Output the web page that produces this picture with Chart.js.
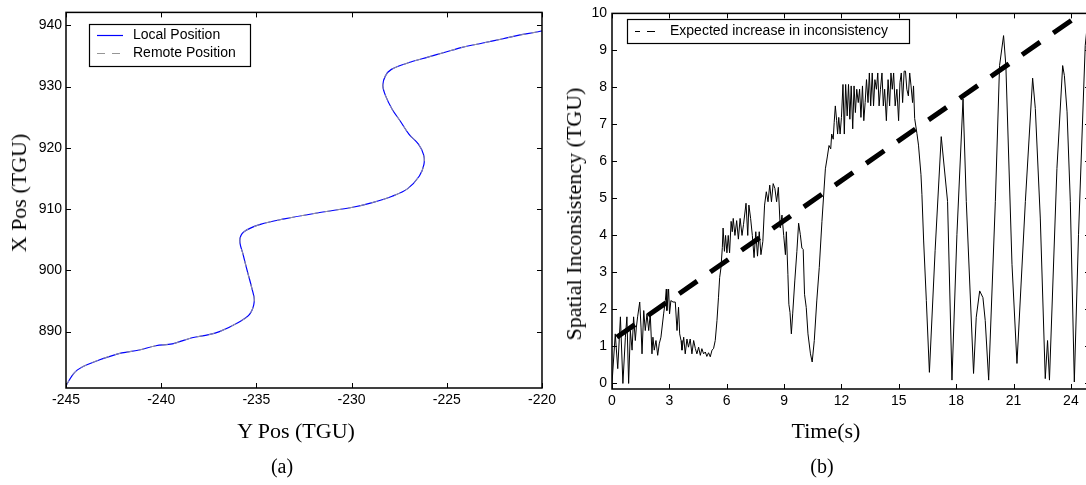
<!DOCTYPE html>
<html>
<head>
<meta charset="utf-8">
<script src="https://cdn.jsdelivr.net/npm/chart.js@4.4.1/dist/chart.umd.min.js"></script>
<style>
    body { margin: 0; width: 1086px; height: 485px; overflow: hidden; background: #fff; position: relative; }
    .box { position: absolute; top: 0; width: 560px; height: 420px; }
    .lbl { position: absolute; font: 22px "Liberation Serif", "Times New Roman", serif; color: #000; white-space: nowrap; transform: translate(-50%, -50%); }
    .vert { transform: translate(-50%, -50%) rotate(-90deg); }
    .cap { font-size: 20px; }
</style>
</head>
<body>
<div class="box" style="left:0px"><canvas id="chartPosition" width="560" height="420"></canvas></div>
<div class="box" style="left:540px"><canvas id="chartInconsistency" width="560" height="420"></canvas></div>

<div class="lbl vert" style="left:19px;top:193px">X Pos (TGU)</div>
<div class="lbl" style="left:296px;top:431px">Y Pos (TGU)</div>
<div class="lbl cap" style="left:282px;top:466px">(a)</div>

<div class="lbl vert" style="left:574px;top:214px">Spatial Inconsistency (TGU)</div>
<div class="lbl" style="left:826px;top:431px">Time(s)</div>
<div class="lbl cap" style="left:822px;top:466px">(b)</div>

<script>
'use strict';

//colors

var color0 = "rgb(000,000,000)";
var colorLocal = "rgb(000,000,255)";
var colorRemote = "rgb(150,150,150)";

var tickFont = { family: '"Liberation Sans", Arial, sans-serif', size: 14 };

//chart (a) data: position track

var yPosTicks = [-245, -240, -235, -230, -225, -220];
var xPosTicks = [890, 900, 910, 920, 930, 940];

var localYPos = [-245, -244.53, -243.9, -242.36, -241.15, -240.28, -239.42, -238.38, -237.5, -236.94, -235.95, -235.36, -235.11, -235.24, -235.47, -235.69, -235.87, -235.65, -234.79, -233.53, -231.74, -229.94, -228.86, -227.87, -227.07, -226.44, -226.2, -226.22, -226.49, -226.98, -227.43, -227.87, -228.23, -228.36, -228.23, -227.91, -226.89, -225.99, -225.09, -224.19, -223.11, -222.04, -221.32, -220.28, -220];
var localXPos = [881.2, 883.4, 884.6, 886.3, 887.0, 887.7, 888.0, 889.0, 889.5, 890.0, 891.5, 892.8, 895.0, 897.1, 899.8, 902.5, 904.9, 906.3, 907.5, 908.4, 909.4, 910.3, 911.1, 912.1, 913.3, 915.4, 917.3, 918.9, 920.6, 922.2, 924.3, 926.3, 928.6, 930.2, 931.7, 932.8, 934.0, 934.8, 935.6, 936.4, 937.1, 937.8, 938.3, 938.9, 939.1];

var remoteYPos = [-245, -244.53, -243.9, -242.36, -241.15, -240.28, -239.42, -238.38, -237.5, -236.94, -235.95, -235.36, -235.11, -235.24, -235.47, -235.69, -235.87, -235.65, -234.79, -233.53, -231.74, -229.94, -228.86, -227.87, -227.07, -226.44, -226.2, -226.22, -226.49, -226.98, -227.43, -227.87, -228.23, -228.36, -228.23, -227.91, -226.89, -225.99, -225.09, -224.19, -223.11, -222.04, -221.32, -220.28, -220];
var remoteXPos = [881.2, 883.4, 884.6, 886.3, 887.0, 887.7, 888.0, 889.0, 889.5, 890.0, 891.5, 892.8, 895.0, 897.1, 899.8, 902.5, 904.9, 906.3, 907.5, 908.4, 909.4, 910.3, 911.1, 912.1, 913.3, 915.4, 917.3, 918.9, 920.6, 922.2, 924.3, 926.3, 928.6, 930.2, 931.7, 932.8, 934.0, 934.8, 935.6, 936.4, 937.1, 937.8, 938.3, 938.9, 939.1];

//chart (b) data: spatial inconsistency over time

var timeTicks = [0, 3, 6, 9, 12, 15, 18, 21, 24];
var inconsistencyTicks = [0, 1, 2, 3, 4, 5, 6, 7, 8, 9, 10];

var timeS = [0, 0.17, 0.3, 0.44, 0.57, 0.7, 0.78, 0.87, 0.96, 1.05, 1.13, 1.22, 1.27, 1.34, 1.45, 1.52, 1.57, 1.66, 1.74, 1.83, 1.92, 2.0, 2.09, 2.14, 2.21, 2.3, 2.39, 2.47, 2.56, 2.7, 2.79, 2.84, 2.87, 2.96, 3.01, 3.08, 3.19, 3.31, 3.4, 3.48, 3.54, 3.61, 3.66, 3.75, 3.83, 3.92, 4.0, 4.09, 4.18, 4.27, 4.36, 4.44, 4.53, 4.62, 4.7, 4.79, 4.88, 4.96, 5.05, 5.14, 5.23, 5.31, 5.4, 5.49, 5.57, 5.63, 5.7, 5.77, 5.81, 5.88, 5.94, 6.01, 6.08, 6.15, 6.23, 6.29, 6.34, 6.43, 6.52, 6.61, 6.7, 6.8, 6.88, 7.01, 7.1, 7.16, 7.25, 7.34, 7.43, 7.52, 7.61, 7.7, 7.79, 7.89, 7.98, 8.07, 8.16, 8.25, 8.34, 8.43, 8.52, 8.61, 8.7, 8.8, 8.89, 8.98, 9.07, 9.12, 9.2, 9.25, 9.31, 9.38, 9.45, 9.56, 9.67, 9.76, 9.85, 9.93, 10.0, 10.07, 10.16, 10.25, 10.38, 10.47, 10.58, 10.71, 10.84, 10.98, 11.07, 11.16, 11.26, 11.35, 11.44, 11.49, 11.57, 11.62, 11.68, 11.75, 11.8, 11.86, 11.93, 12.0, 12.08, 12.15, 12.22, 12.3, 12.37, 12.44, 12.51, 12.59, 12.66, 12.73, 12.8, 12.88, 12.95, 13.02, 13.1, 13.17, 13.24, 13.31, 13.39, 13.46, 13.53, 13.61, 13.68, 13.75, 13.83, 13.9, 13.97, 14.04, 14.12, 14.19, 14.26, 14.35, 14.44, 14.52, 14.59, 14.66, 14.73, 14.81, 14.9, 14.99, 15.06, 15.13, 15.2, 15.28, 15.35, 15.42, 15.5, 15.57, 15.64, 15.72, 15.77, 15.83, 15.95, 16.03, 16.16, 16.21, 16.3, 16.44, 16.6, 16.9, 17.22, 17.55, 17.78, 18.04, 18.36, 18.53, 18.91, 19.05, 19.23, 19.4, 19.52, 19.7, 20.05, 20.27, 20.48, 20.6, 20.92, 21.18, 21.62, 22.0, 22.14, 22.4, 22.66, 22.78, 22.88, 23.27, 23.57, 23.66, 23.8, 23.97, 24.18, 24.4, 24.75, 24.9];
var inconsistency = [0, 1.34, 0.4, 1.8, 0, 1.25, 1.8, 0, 1.43, 0.9, 1.8, 1.16, 1.5, 1.8, 2.2, 1.5, 0.8, 1.97, 1.43, 1.88, 1.43, 1.88, 0.8, 1.25, 0.9, 1.16, 0.76, 1.07, 1.25, 1.88, 2.24, 2.55, 1.97, 2.55, 1.88, 2.24, 2.2, 2.2, 1.43, 2.06, 1.34, 1.16, 0.9, 1.25, 0.8, 1.2, 0.98, 1.2, 0.8, 1.16, 0.94, 0.8, 0.98, 0.76, 0.94, 0.8, 0.85, 0.73, 0.83, 0.72, 0.9, 0.94, 1.16, 1.7, 2.33, 2.86, 3.13, 3.67, 4.2, 3.57, 4.0, 3.53, 4.0, 3.53, 4.38, 4.1, 4.46, 4.0, 4.4, 3.9, 4.46, 4.0, 4.3, 4.87, 4.0, 4.82, 4.46, 4.0, 3.4, 4.1, 3.44, 4.1, 3.48, 3.84, 4.82, 5.18, 4.91, 5.36, 4.91, 5.4, 5.27, 4.91, 5.3, 4.2, 4.55, 4.0, 3.48, 4.1, 2.95, 2.14, 1.92, 1.34, 1.88, 2.77, 3.57, 4.33, 4.02, 3.66, 3.62, 2.41, 2.05, 1.34, 0.8, 0.58, 1.16, 2.23, 3.13, 4.38, 5.09, 5.8, 6.12, 6.43, 6.34, 6.74, 6.6, 7.05, 7.5, 7.1, 6.74, 7.19, 6.74, 7.19, 8.08, 6.74, 8.08, 7.23, 8.08, 7.14, 8.04, 6.88, 8.04, 7.32, 7.95, 7.59, 7.95, 7.19, 8.04, 7.1, 7.59, 8.21, 7.59, 8.39, 7.5, 8.39, 7.5, 8.21, 7.95, 8.39, 7.5, 7.95, 8.39, 7.5, 7.95, 7.1, 8.21, 7.5, 8.39, 7.95, 8.39, 7.5, 7.95, 7.1, 8.13, 8.39, 7.59, 8.44, 8.44, 7.95, 7.77, 8.39, 8.04, 7.59, 8.04, 7.16, 6.75, 6.44, 5.64, 5.1, 3.85, 2.24, 0.3, 3.6, 6.67, 4.92, 0.09, 4.03, 7.69, 4.92, 0.27, 1.79, 2.5, 2.32, 1.7, 0.09, 4.92, 8.59, 9.4, 8.59, 3.22, 0.54, 4.92, 8.25, 7.43, 4.47, 0.13, 1.16, 0.09, 5.81, 8.59, 8.32, 7.34, 4.92, 0.04, 4.03, 9.13, 9.9];

var expectedTime = [0.25, 24.55];
var expectedValue = [1.25, 10.0];

function toPoints(xs, ys) {
    return xs.map(function (v, i) { return { x: v, y: ys[i] }; });
}

//matlab style box: inward ticks on all sides, frame and boxed legend

const matlabAxes = {
    id: 'matlabAxes',
    afterDatasetsDraw: function (chart, args, opts) {
        var ctx = chart.ctx;
        var area = chart.chartArea;
        var xScale = chart.scales.x;
        var yScale = chart.scales.y;
        var tl = opts.tickLength;

        ctx.save();
        ctx.strokeStyle = color0;
        ctx.lineWidth = 1;
        ctx.beginPath();
        xScale.ticks.forEach(function (t) {
            var px = Math.round(xScale.getPixelForValue(t.value)) + 0.5;
            ctx.moveTo(px, area.bottom); ctx.lineTo(px, area.bottom - tl);
            ctx.moveTo(px, area.top); ctx.lineTo(px, area.top + tl);
        });
        yScale.ticks.forEach(function (t) {
            var py = Math.round(yScale.getPixelForValue(t.value)) + 0.5;
            ctx.moveTo(area.left, py); ctx.lineTo(area.left + tl, py);
            ctx.moveTo(area.right, py); ctx.lineTo(area.right - tl, py);
        });
        ctx.stroke();

        ctx.lineWidth = 1.5;
        ctx.strokeRect(area.left, area.top, area.width, area.height);

        //legend
        var lg = opts.legend;
        ctx.fillStyle = "#fff";
        ctx.fillRect(lg.x, lg.y, lg.w, lg.h);
        ctx.lineWidth = 1.2;
        ctx.strokeStyle = color0;
        ctx.strokeRect(lg.x + 0.5, lg.y + 0.5, lg.w, lg.h);
        ctx.font = '14px "Liberation Sans", Arial, sans-serif';
        ctx.textBaseline = 'middle';
        lg.items.forEach(function (idx, row) {
            var ds = chart.data.datasets[idx];
            var cy = lg.firstRow + row * lg.rowHeight + 0.5;
            ctx.strokeStyle = ds.borderColor;
            ctx.lineWidth = ds.legendWidth;
            ctx.setLineDash(ds.legendDash);
            ctx.beginPath();
            ctx.moveTo(lg.sampleX, cy);
            ctx.lineTo(lg.sampleX + lg.sampleW, cy);
            ctx.stroke();
            ctx.setLineDash([]);
            ctx.fillStyle = color0;
            ctx.fillText(ds.label, lg.textX, cy);
        });
        ctx.restore();
    }
};

function fixedTicks(list) {
    return function (scale) {
        scale.ticks = list.map(function (v) { return { value: v }; });
    };
}

//chart (a)

const chartPositionConfig = {
    type: 'scatter',
    data: {
        datasets: [{
            label: 'Local Position',
            data: toPoints(localYPos, localXPos),
            showLine: true,
            tension: 0.35,
            borderColor: colorLocal,
            borderWidth: 1.2,
            pointRadius: 0,
            legendDash: [],
            legendWidth: 1.2,
            order: 1
        },
        {
            label: 'Remote Position',
            data: toPoints(remoteYPos, remoteXPos),
            showLine: true,
            tension: 0.35,
            borderColor: colorRemote,
            borderWidth: 1,
            borderDash: [6, 6],
            pointRadius: 0,
            legendDash: [8, 7],
            legendWidth: 1.2,
            order: 0
        }]
    },
    options: {
        responsive: false,
        animation: false,
        devicePixelRatio: 1,
        layout: { padding: { left: 0, top: 8, right: 14, bottom: 8 } },
        plugins: {
            legend: { display: false },
            tooltip: { enabled: false },
            matlabAxes: {
                tickLength: 5,
                legend: { x: 89, y: 24, w: 161, h: 42, firstRow: 35, rowHeight: 18, sampleX: 97, sampleW: 26, textX: 133, items: [0, 1] }
            }
        },
        scales: {
            x: {
                type: 'linear',
                min: -245,
                max: -220,
                afterBuildTicks: fixedTicks(yPosTicks),
                afterFit: function (scale) { scale.height = 24; },
                grid: { display: false, drawTicks: false },
                border: { display: false },
                ticks: { color: color0, font: tickFont, padding: 4, maxRotation: 0, callback: function (v) { return String(v); } }
            },
            y: {
                type: 'linear',
                min: 880.8,
                max: 942.1,
                afterBuildTicks: fixedTicks(xPosTicks),
                afterFit: function (scale) { scale.width = 66; },
                grid: { display: false, drawTicks: false },
                border: { display: false },
                ticks: { color: color0, font: tickFont, padding: 4, callback: function (v) { return String(v); } }
            }
        }
    },
    plugins: [matlabAxes]
};

//chart (b)

const chartInconsistencyConfig = {
    type: 'scatter',
    data: {
        datasets: [{
            label: 'Spatial Inconsistency',
            data: toPoints(timeS, inconsistency),
            showLine: true,
            borderColor: color0,
            borderWidth: 1,
            pointRadius: 0,
            order: 1
        },
        {
            label: 'Expected increase in inconsistency',
            data: toPoints(expectedTime, expectedValue),
            showLine: true,
            borderColor: color0,
            borderWidth: 5,
            borderDash: [22, 16],
            pointRadius: 0,
            legendDash: [5, 7, 8, 100],
            legendWidth: 1.2,
            order: 0
        }]
    },
    options: {
        responsive: false,
        animation: false,
        devicePixelRatio: 1,
        layout: { padding: { left: 0, top: 10, right: 10, bottom: 7 } },
        plugins: {
            legend: { display: false },
            tooltip: { enabled: false },
            matlabAxes: {
                tickLength: 5,
                legend: { x: 87, y: 19, w: 282, h: 24, firstRow: 31, rowHeight: 18, sampleX: 95, sampleW: 20, textX: 130, items: [1] }
            }
        },
        scales: {
            x: {
                type: 'linear',
                min: 0,
                max: 25,
                afterBuildTicks: fixedTicks(timeTicks),
                afterFit: function (scale) { scale.height = 24; },
                grid: { display: false, drawTicks: false },
                border: { display: false },
                ticks: { color: color0, font: tickFont, padding: 4, maxRotation: 0, callback: function (v) { return String(v); } }
            },
            y: {
                type: 'linear',
                min: -0.15,
                max: 10,
                afterBuildTicks: fixedTicks(inconsistencyTicks),
                afterFit: function (scale) { scale.width = 72; },
                grid: { display: false, drawTicks: false },
                border: { display: false },
                ticks: { color: color0, font: tickFont, padding: 5, callback: function (v) { return String(v); } }
            }
        }
    },
    plugins: [matlabAxes]
};

window.onload = function () {

    //draw chart (a)
    new Chart(document.getElementById('chartPosition'), chartPositionConfig);

    //draw chart (b)
    new Chart(document.getElementById('chartInconsistency'), chartInconsistencyConfig);
}
</script>
</body>
</html>
